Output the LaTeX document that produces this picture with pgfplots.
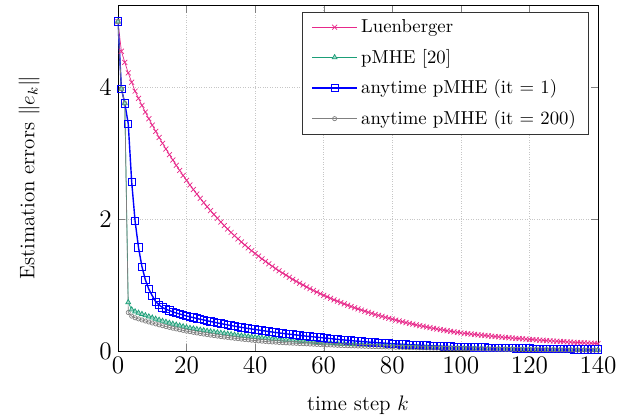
\documentclass[border=0pt]{standalone}
\usepackage{pgfplots}
\pgfplotsset{compat=1.18}
\definecolor{lpink}{HTML}{E7298A}
\definecolor{lgreen}{HTML}{1B9E77}
\begin{document}
\begin{tikzpicture}
\begin{axis}[name=ax,
  scale only axis, width=274.3pt, height=197.7pt,
  xmin=0, xmax=140, ymin=0, ymax=5.25,
  xtick={0,20,...,140}, ytick={0,2,4},
  grid=major, major grid style={densely dotted, gray!45},
  tick label style={font=\fontsize{15.5}{18}\selectfont},
  xlabel={time step $k$}, ylabel={Estimation errors $\|e_k\|$},
  every axis x label/.style={at={(axis description cs:0.5,-0.157)}, anchor=center, font=\large},
  every axis y label/.style={at={(axis description cs:-0.185,0.5)}, anchor=center, rotate=90, font=\large},
  legend cell align=left,
  legend image code/.code={\draw[mark repeat=2,mark phase=2,#1] plot coordinates {(0cm,0cm) (0.45cm,0cm) (0.9cm,0cm)};},
  legend style={at={(0.98,0.98)}, anchor=north east, draw=black!80, font=\fontsize{10.7}{13}\selectfont, row sep=4pt, inner xsep=5pt},
]
\addplot[lpink, mark=x, mark size=2pt] table[row sep=\\, header=false, x expr=\coordindex, y index=0] {
5\\4.55\\4.38\\4.22\\4.08\\3.944\\3.835\\3.729\\3.626\\3.526\\3.429\\3.334\\3.242\\3.153\\3.066\\2.981\\2.899\\2.819\\2.741\\2.665\\
2.592\\2.520\\2.451\\2.383\\2.317\\2.253\\2.191\\2.131\\2.072\\2.015\\1.959\\1.905\\1.852\\1.801\\1.751\\1.703\\1.656\\1.610\\1.566\\1.523\\
1.481\\1.440\\1.400\\1.361\\1.324\\1.287\\1.252\\1.217\\1.184\\1.151\\1.119\\1.088\\1.058\\1.029\\1.001\\0.973\\0.946\\0.920\\0.895\\0.870\\
0.846\\0.823\\0.800\\0.778\\0.757\\0.736\\0.715\\0.696\\0.676\\0.658\\0.640\\0.622\\0.605\\0.588\\0.572\\0.556\\0.541\\0.526\\0.511\\0.497\\
0.484\\0.470\\0.457\\0.445\\0.432\\0.420\\0.409\\0.397\\0.386\\0.376\\0.365\\0.355\\0.345\\0.336\\0.327\\0.318\\0.309\\0.300\\0.292\\0.284\\
0.276\\0.270\\0.264\\0.258\\0.253\\0.247\\0.242\\0.237\\0.231\\0.226\\0.221\\0.217\\0.212\\0.207\\0.203\\0.198\\0.194\\0.190\\0.186\\0.181\\
0.177\\0.174\\0.170\\0.166\\0.163\\0.159\\0.156\\0.152\\0.149\\0.146\\0.143\\0.139\\0.136\\0.133\\0.130\\0.128\\0.125\\0.122\\0.120\\0.117\\
0.114\\
};
\addlegendentry{Luenberger}
\addplot[lgreen, mark=triangle*, mark size=1.6pt, mark options={fill=lgreen!40}] table[row sep=\\, header=false, x expr=\coordindex, y index=0] {
5\\3.98\\3.76\\0.74\\0.63\\0.600\\0.580\\0.561\\0.542\\0.524\\0.506\\0.489\\0.473\\0.457\\0.442\\0.427\\0.413\\0.399\\0.386\\0.373\\
0.360\\0.350\\0.341\\0.332\\0.323\\0.315\\0.306\\0.298\\0.290\\0.283\\0.275\\0.268\\0.261\\0.254\\0.247\\0.240\\0.234\\0.228\\0.222\\0.216\\
0.210\\0.205\\0.200\\0.195\\0.191\\0.186\\0.182\\0.178\\0.173\\0.169\\0.165\\0.161\\0.158\\0.154\\0.150\\0.147\\0.143\\0.140\\0.137\\0.133\\
0.130\\0.127\\0.124\\0.121\\0.118\\0.115\\0.113\\0.110\\0.107\\0.105\\0.102\\0.100\\0.098\\0.095\\0.093\\0.091\\0.089\\0.086\\0.084\\0.082\\
0.080\\0.078\\0.077\\0.075\\0.073\\0.071\\0.070\\0.068\\0.066\\0.065\\0.063\\0.062\\0.060\\0.059\\0.057\\0.056\\0.055\\0.053\\0.052\\0.051\\
0.050\\0.049\\0.047\\0.046\\0.045\\0.044\\0.043\\0.042\\0.041\\0.040\\0.039\\0.038\\0.037\\0.036\\0.036\\0.035\\0.034\\0.033\\0.032\\0.031\\
0.031\\0.030\\0.029\\0.029\\0.028\\0.027\\0.027\\0.026\\0.025\\0.025\\0.024\\0.024\\0.023\\0.022\\0.022\\0.021\\0.021\\0.020\\0.020\\0.019\\
0.019\\
};
\addlegendentry{pMHE [20]}
\addplot[blue, line width=0.8pt, mark=square, mark size=2.1pt, mark options={line width=0.5pt}] table[row sep=\\, header=false, x expr=\coordindex, y index=0] {
5\\3.98\\3.76\\3.45\\2.57\\1.97\\1.57\\1.28\\1.08\\0.94\\0.84\\0.75\\0.70\\0.66\\0.635\\0.615\\0.595\\0.578\\0.562\\0.547\\
0.533\\0.520\\0.508\\0.495\\0.483\\0.472\\0.460\\0.449\\0.438\\0.428\\0.417\\0.407\\0.397\\0.388\\0.378\\0.369\\0.360\\0.352\\0.343\\0.335\\
0.327\\0.319\\0.311\\0.304\\0.296\\0.289\\0.282\\0.275\\0.269\\0.262\\0.256\\0.250\\0.244\\0.238\\0.232\\0.226\\0.221\\0.216\\0.210\\0.205\\
0.200\\0.194\\0.189\\0.183\\0.178\\0.173\\0.168\\0.163\\0.159\\0.154\\0.150\\0.146\\0.141\\0.137\\0.133\\0.130\\0.126\\0.122\\0.119\\0.116\\
0.112\\0.109\\0.106\\0.103\\0.100\\0.097\\0.094\\0.092\\0.089\\0.087\\0.084\\0.082\\0.079\\0.077\\0.075\\0.073\\0.071\\0.069\\0.067\\0.065\\
0.063\\0.061\\0.060\\0.058\\0.057\\0.055\\0.054\\0.053\\0.051\\0.050\\0.049\\0.048\\0.046\\0.045\\0.044\\0.043\\0.042\\0.041\\0.040\\0.039\\
0.038\\0.037\\0.036\\0.035\\0.034\\0.033\\0.033\\0.032\\0.031\\0.030\\0.030\\0.029\\0.028\\0.027\\0.027\\0.026\\0.025\\0.025\\0.024\\0.024\\
0.023\\
};
\addlegendentry{anytime pMHE (it = 1)}
\addplot[gray, mark=o, mark size=1.2pt] table[row sep=\\, header=false, x expr=\coordindex, y index=0] {
5\\3.98\\3.76\\0.585\\0.530\\0.505\\0.488\\0.472\\0.456\\0.441\\0.426\\0.412\\0.398\\0.385\\0.372\\0.359\\0.347\\0.336\\0.324\\0.314\\
0.303\\0.294\\0.284\\0.275\\0.267\\0.258\\0.250\\0.242\\0.235\\0.227\\0.220\\0.213\\0.207\\0.200\\0.194\\0.188\\0.182\\0.176\\0.171\\0.165\\
0.160\\0.155\\0.150\\0.146\\0.141\\0.138\\0.135\\0.131\\0.128\\0.125\\0.122\\0.119\\0.117\\0.114\\0.111\\0.109\\0.106\\0.104\\0.101\\0.099\\
0.096\\0.094\\0.092\\0.090\\0.087\\0.085\\0.083\\0.081\\0.079\\0.078\\0.076\\0.074\\0.072\\0.071\\0.069\\0.067\\0.066\\0.064\\0.063\\0.061\\
0.060\\0.058\\0.057\\0.056\\0.054\\0.053\\0.052\\0.050\\0.049\\0.048\\0.047\\0.046\\0.045\\0.044\\0.043\\0.042\\0.041\\0.040\\0.039\\0.038\\
0.037\\0.036\\0.035\\0.034\\0.033\\0.033\\0.032\\0.031\\0.030\\0.030\\0.029\\0.028\\0.028\\0.027\\0.026\\0.026\\0.025\\0.024\\0.024\\0.023\\
0.023\\0.022\\0.022\\0.021\\0.021\\0.020\\0.020\\0.019\\0.019\\0.018\\0.018\\0.017\\0.017\\0.017\\0.016\\0.016\\0.015\\0.015\\0.015\\0.014\\
0.014\\
};
\addlegendentry{anytime pMHE (it = 200)}
\end{axis}
\pgfresetboundingbox
\path ([shift={(-67.4pt,-38.3pt)}]ax.south west) rectangle ([shift={(25.7pt,2.9pt)}]ax.north east);
\end{tikzpicture}
\end{document}
